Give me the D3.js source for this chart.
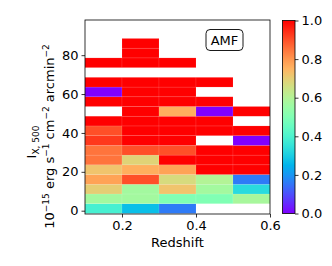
<!DOCTYPE html>
<html>
<head>
<meta charset="utf-8">
<script src="https://cdn.jsdelivr.net/npm/d3@7"></script>
<style>
  body { margin: 0; background: #fff; }
  text { font-family: "DejaVu Sans", sans-serif; fill: #000; }
</style>
</head>
<body>
<div id="chart"></div>
<script>
// redshift bin edges
var zEdges = [0.1, 0.2, 0.3, 0.4, 0.5, 0.6];
// surface brightness bin edges (10^-15 erg s^-1 cm^-2 arcmin^-2)
var iEdges = [-1.4, 3.6, 8.6, 13.6, 18.6, 23.6, 28.6, 33.6, 38.6, 43.6,
              48.6, 53.6, 58.6, 63.6, 68.6, 73.6, 78.6, 83.6, 88.6];

// fraction per bin, one array per redshift bin, bottom row first (null = empty)
var fracZ1 = [0.39, 0.57, 0.70, 0.78, 0.72, 0.85, 0.85, 0.93, 0.90, 1, null, 1, 0, 1, null, 1, null, null];
var fracZ2 = [0.27, 0.57, 0.57, 0.90, 0.76, 0.69, 0.90, 1, 1, 1, 1, 1, 1, 1, null, 1, 1, 1];
var fracZ3 = [0.16, 0.50, 0.72, 0.67, 0.78, 1, 0.90, 1, 1, 1, 0.76, 1, 1, 1, null, 1, null, null];
var fracZ4 = [null, 0.50, 0.57, 0.60, 1, 1, 1, null, 1, 1, 0, 1, null, 1, null, null, null, null];
var fracZ5 = [null, 0.58, 0.33, 0.16, 1, 1, 1, 0, 1, null, 1, null, null, null, null, null, null, null];
var fracCols = [fracZ1, fracZ2, fracZ3, fracZ4, fracZ5];

var xTicks = [0.2, 0.4, 0.6];
var yTicks = [0, 20, 40, 60, 80];
var cTicks = [0.0, 0.2, 0.4, 0.6, 0.8, 1.0];

var width = 332, height = 266;
var margin = { top: 20, right: 62, bottom: 52, left: 85 };

var svg = d3.select("#chart").append("svg")
    .attr("width", width)
    .attr("height", height);

var xScale = d3.scaleLinear().domain([0.1, 0.6]).range([85, 270]);
var yScale = d3.scaleLinear().domain([-1.7, 98.1]).range([214, 20]);

// matplotlib 'rainbow'
function rainbow(t) {
    var r = Math.min(1, Math.abs(2 * t - 0.5)),
        g = Math.sin(Math.PI * t),
        b = Math.cos(Math.PI * t / 2);
    return d3.rgb(r * 255, g * 255, b * 255).toString();
}
var color = d3.scaleSequential(rainbow).domain([0, 1]);

var cells = [];
for (var c = 0; c < fracCols.length; c++) {
    for (var r = 0; r < fracCols[c].length; r++) {
        if (fracCols[c][r] === null) continue;
        cells.push({ z0: zEdges[c], z1: zEdges[c + 1], i0: iEdges[r], i1: iEdges[r + 1], v: fracCols[c][r] });
    }
}

svg.selectAll(".cell")
    .data(cells)
    .enter().append("rect")
    .attr("class", "cell")
    .attr("x", function(d){ return xScale(d.z0) })
    .attr("y", function(d){ return yScale(d.i1) })
    .attr("width", function(d){ return xScale(d.z1) - xScale(d.z0) })
    .attr("height", function(d){ return yScale(d.i0) - yScale(d.i1) })
    .attr("fill", function(d){ return color(d.v) })
    .attr("stroke", "#fff")
    .attr("stroke-opacity", 0.15)
    .attr("stroke-width", 0.6);

// axes
var xAxisGen = d3.axisBottom(xScale).tickValues(xTicks).tickFormat(d3.format(".1f")).tickSize(3.5).tickPadding(3);
var yAxisGen = d3.axisLeft(yScale).tickValues(yTicks).tickFormat(d3.format("d")).tickSize(3.5).tickPadding(3);

var xAxis = svg.append("g").call(xAxisGen)
    .attr("transform", "translate(0,214)");
var yAxis = svg.append("g").call(yAxisGen)
    .attr("transform", "translate(85,0)");
[xAxis, yAxis].forEach(function(a){
    a.select(".domain").remove();
    a.selectAll("text").attr("font-size", 13).attr("font-family", "DejaVu Sans").attr("fill", "#000");
    a.selectAll("line").attr("stroke", "#000").attr("stroke-width", 0.8);
});

// frame
svg.append("rect")
    .attr("x", 85).attr("y", 20)
    .attr("width", 185).attr("height", 194)
    .attr("fill", "none").attr("stroke", "#000").attr("stroke-width", 0.8);

// AMF box
svg.append("rect")
    .attr("x", 206).attr("y", 29.5).attr("width", 37).attr("height", 21)
    .attr("rx", 4).attr("fill", "#fff").attr("stroke", "#000").attr("stroke-width", 0.9);
svg.append("text").attr("x", 224.5).attr("y", 45)
    .attr("text-anchor", "middle").attr("font-size", 13).text("AMF");

// x label
svg.append("text").attr("x", 177.5).attr("y", 247)
    .attr("text-anchor", "middle").attr("font-size", 13).text("Redshift");

// y label, two lines
var yl1 = svg.append("text")
    .attr("transform", "translate(36,142) rotate(-90)")
    .attr("text-anchor", "middle").attr("font-size", 13);
yl1.append("tspan").text("I");
yl1.append("tspan").attr("font-size", 9).attr("dy", 3).text("X, 500");

var yl2 = svg.append("text")
    .attr("transform", "translate(53.5,136.5) rotate(-90)")
    .attr("text-anchor", "middle").attr("font-size", 13);
var parts = [["10", 0], ["\u221215", 1], [" erg s", 0], ["\u22121", 1], [" cm", 0], ["\u22122", 1], [" arcmin", 0], ["\u22122", 1]];
var lastSup = 0;
parts.forEach(function(p){
    var dy = (p[1] ? -5 : 0) - (lastSup ? -5 : 0);
    yl2.append("tspan").attr("font-size", p[1] ? 9 : 13).attr("dy", dy).text(p[0]);
    lastSup = p[1];
});

// colorbar
var cbX = 282.5, cbW = 12.5;
var cScale = d3.scaleLinear().domain([0, 1]).range([213.5, 20.5]);
var defs = svg.append("defs");
var grad = defs.append("linearGradient").attr("id", "cbgrad")
    .attr("x1", 0).attr("y1", 1).attr("x2", 0).attr("y2", 0);
d3.range(0, 1.0001, 0.05).forEach(function(t){
    grad.append("stop").attr("offset", t).attr("stop-color", color(t));
});
svg.append("rect")
    .attr("x", cbX).attr("y", cScale(1))
    .attr("width", cbW).attr("height", cScale(0) - cScale(1))
    .attr("fill", "url(#cbgrad)").attr("stroke", "#000").attr("stroke-width", 0.8);
var cAxis = svg.append("g").call(d3.axisRight(cScale).tickValues(cTicks).tickFormat(d3.format(".1f")).tickSize(3.5).tickPadding(3))
    .attr("transform", "translate(" + (cbX + cbW) + ",0)");
cAxis.select(".domain").remove();
cAxis.selectAll("text").attr("font-size", 13).attr("font-family", "DejaVu Sans").attr("fill", "#000");
cAxis.selectAll("line").attr("stroke", "#000").attr("stroke-width", 0.8);
</script>
</body>
</html>
